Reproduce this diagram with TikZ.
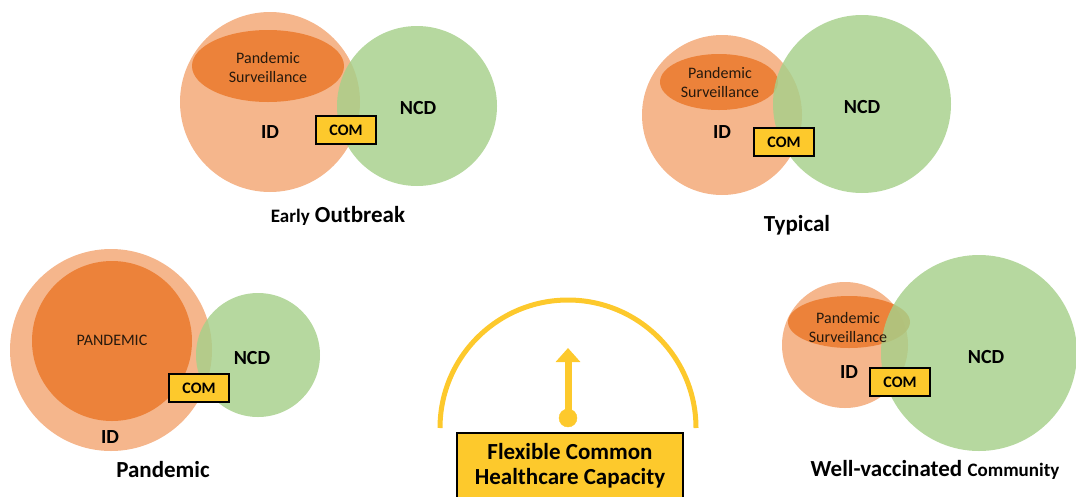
\documentclass[tikz,border=0pt]{standalone}
\usepackage{fontspec}
\setmainfont{Carlito}
\usetikzlibrary{arrows.meta}

\definecolor{idorange}{RGB}{245,182,140}
\definecolor{pandorange}{RGB}{236,126,52}
\definecolor{ncdgreen}{RGB}{166,208,138}
\definecolor{comgold}{RGB}{253,201,44}

\tikzset{
  idcirc/.style={fill=idorange},
  pandfill/.style={fill=pandorange, fill opacity=0.92},
  ncdcirc/.style={fill=ncdgreen, fill opacity=0.82},
  combox/.style={draw=black, line width=1.6pt, fill=comgold, inner sep=0pt,
    minimum width=60pt, minimum height=28pt, font=\bfseries\fontsize{16}{18}\selectfont},
  bigtxt/.style={font=\bfseries\fontsize{20}{22}\selectfont},
  smalltxt/.style={align=center, text=black!80!brown, font=\fontsize{16}{19}\selectfont},
  captxt/.style={font=\bfseries\fontsize{23}{26}\selectfont},
  gauge/.style={draw=comgold, fill=comgold}
}

\begin{document}
\begin{tikzpicture}[x=1pt, y=-1pt]
\useasboundingbox (0,0) rectangle (1076,496);
\clip (0,0) rectangle (1076,496);

% early outbreak
  \fill[idcirc] (270,102) circle [radius=90pt];
  \fill[pandfill] (268,66) ellipse [x radius=76pt, y radius=36pt];
  \fill[ncdcirc] (417,106) circle [radius=80pt];
  \node[smalltxt] (eoSurv) at (268,67) {Pandemic\\Surveillance};
  \node[bigtxt] (eoID) at (270,132) {ID};
  \node[bigtxt] (eoNCD) at (418,108) {NCD};
  \node[combox] (eoCOM) at (346,130) {COM};
  \node[captxt] (eoCap) at (338,216) {{\fontsize{19}{22}\selectfont Early} Outbreak};
%
% typical
  \fill[idcirc] (722,115) circle [radius=80pt];
  \fill[pandfill] (719,82) ellipse [x radius=59pt, y radius=28pt];
  \fill[ncdcirc] (862,104) circle [radius=89pt];
  \node[smalltxt] (tySurv) at (720,82) {Pandemic\\Surveillance};
  \node[bigtxt] (tyID) at (722,132) {ID};
  \node[bigtxt] (tyNCD) at (862,107) {NCD};
  \node[combox] (tyCOM) at (784,142) {COM};
  \node[captxt] (tyCap) at (797,225) {Typical};
%
% pandemic
  \fill[idcirc] (111,350) circle [radius=101pt];
  \fill[pandfill] (112,341) circle [radius=80pt];
  \fill[ncdcirc] (258,355) circle [radius=62pt];
  \node[smalltxt] (paPan) at (112,340) {PANDEMIC};
  \node[bigtxt] (paID) at (110,437) {ID};
  \node[bigtxt] (paNCD) at (252,358) {NCD};
  \node[combox] (paCOM) at (199,388) {COM};
  \node[captxt] (paCap) at (163,470) {Pandemic};
%
% well-vaccinated community
  \fill[idcirc] (845,345) circle [radius=63pt];
  \fill[pandfill] (849,322) ellipse [x radius=61pt, y radius=26pt];
  \fill[ncdcirc] (979,353) circle [radius=98pt];
  \node[smalltxt] (wvSurv) at (848,327) {Pandemic\\Surveillance};
  \node[bigtxt] (wvID) at (849,372) {ID};
  \node[bigtxt] (wvNCD) at (986,357) {NCD};
  \node[combox] (wvCOM) at (900,382) {COM};
  \node[captxt] (wvCap) at (935,470) {Well-vaccinated {\fontsize{19}{22}\selectfont Community}};
%
% common capacity gauge
  \coordinate (gaugeC) at (568,428);
  \coordinate (gaugeDot) at (568,418);
  \coordinate (gaugeTip) at (568,348);
  \draw[comgold, line width=5pt] (gaugeC) ++(-128,0) arc [start angle=180, end angle=0, radius=128pt];
  \fill[gauge] (gaugeDot) circle [radius=9pt];
  \draw[comgold, line width=7pt, -{Triangle[width=24pt, length=14pt]}] (gaugeDot) -- (gaugeTip);
  \node[draw=black, line width=1.6pt, fill=comgold, align=center, minimum width=226pt, minimum height=66pt,
    font=\bfseries\fontsize{23}{25}\selectfont] (flexCap) at (570,466) {Flexible Common\\Healthcare Capacity};
%
\end{tikzpicture}
\end{document}
